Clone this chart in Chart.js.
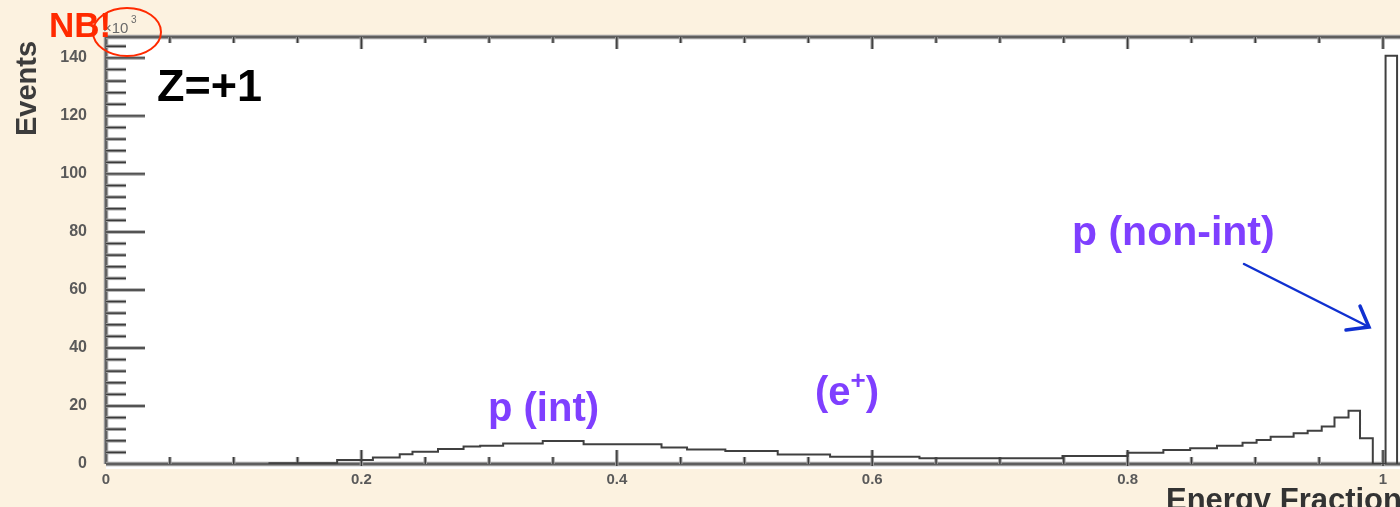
<!DOCTYPE html>
<html>
<head>
<meta charset="utf-8">
<script src="https://cdn.jsdelivr.net/npm/chart.js@4.4.1/dist/chart.umd.min.js"></script>
<style>
  html, body { margin: 0; padding: 0; background: #fcf2e0; }
  #wrap { width: 1400px; height: 507px; position: relative; }
</style>
</head>
<body>
<div id="wrap"><canvas id="c" width="1400" height="507"></canvas></div>
<script>
// ---- data ----
// histogram bin edges (Energy Fraction) and bin contents (Events, x10^3)
const binEdges = [0.128, 0.181, 0.209, 0.230, 0.240, 0.260, 0.280, 0.293, 0.311, 0.342,
                  0.374, 0.435, 0.455, 0.485, 0.526, 0.567, 0.637, 0.749, 0.800, 0.828,
                  0.849, 0.870, 0.890, 0.901, 0.912, 0.930, 0.941, 0.952, 0.962, 0.973,
                  0.982, 0.992, 1.002, 1.011];
const counts   = [0.3, 1.4, 2.2, 3.4, 4.2, 5.2, 6.0, 6.3, 7.1, 7.9,
                  6.8, 5.7, 5.0, 4.5, 3.3, 2.5, 2.0, 2.8, 3.9, 4.8,
                  5.4, 6.3, 7.3, 8.3, 9.4, 10.6, 11.5, 12.9, 16.0, 18.4,
                  8.9, 0, 140.7];
const xTickValues = [0, 0.2, 0.4, 0.6, 0.8, 1.0];
const yTickValues = [0, 20, 40, 60, 80, 100, 120, 140];
const xMinorStep = 0.05;
const yMinorStep = 4;

// step-histogram outline points built from the arrays
const n = counts.length;
const points = [{x: binEdges[0], y: 0}];
for (let i = 0; i < n; i++) points.push({x: binEdges[i], y: counts[i]});
points.push({x: binEdges[n], y: counts[n - 1]});
points.push({x: binEdges[n], y: 0});

const FONT = "'Liberation Sans', Arial, Helvetica, sans-serif";

const decor = {
  id: 'decor',
  beforeDraw(chart) {
    const {ctx, chartArea: a} = chart;
    ctx.save();
    ctx.fillStyle = '#fcf2e0';
    ctx.fillRect(0, 0, chart.width, chart.height);
    ctx.fillStyle = '#ffffff';
    ctx.fillRect(a.left, a.top, a.right - a.left, a.bottom - a.top + 5);
    ctx.restore();
  },
  beforeDatasetsDraw(chart) {
    const {ctx, chartArea: a, scales: {x, y}} = chart;
    ctx.save();
    // axis frame lines
    const axisLine = (x1, y1, x2, y2) => {
      ctx.lineCap = 'butt';
      ctx.strokeStyle = '#9a9a9a'; ctx.lineWidth = 4.5;
      ctx.beginPath(); ctx.moveTo(x1, y1); ctx.lineTo(x2, y2); ctx.stroke();
      ctx.strokeStyle = '#4a4a4a'; ctx.lineWidth = 1.4;
      ctx.beginPath(); ctx.moveTo(x1, y1); ctx.lineTo(x2, y2); ctx.stroke();
    };
    axisLine(a.left, a.top, a.left, a.bottom);
    axisLine(a.left, a.bottom, a.right, a.bottom);
    axisLine(a.left, a.top, a.right, a.top);

    const tick = (x1, y1, x2, y2) => {
      ctx.strokeStyle = '#a0a0a0'; ctx.lineWidth = 3.5;
      ctx.beginPath(); ctx.moveTo(x1, y1); ctx.lineTo(x2, y2); ctx.stroke();
      ctx.strokeStyle = '#3a3a3a'; ctx.lineWidth = 1.4;
      ctx.beginPath(); ctx.moveTo(x1, y1); ctx.lineTo(x2, y2); ctx.stroke();
    };
    // y ticks (inside, long)
    for (let v = yMinorStep; v <= y.max + 1e-9; v += yMinorStep) {
      const py = y.getPixelForValue(v);
      const major = Math.abs(v / 20 - Math.round(v / 20)) < 1e-6;
      tick(a.left, py, a.left + (major ? 39 : 20), py);
    }
    // x ticks bottom and top
    for (let k = 1; k * xMinorStep <= x.max + 1e-9; k++) {
      const v = k * xMinorStep;
      const px = x.getPixelForValue(v);
      const major = k % 4 === 0;
      tick(px, a.bottom + (major ? 2 : 0), px, a.bottom - (major ? 14 : 7));
      tick(px, a.top, px, a.top + (major ? 12 : 6));
    }
    ctx.restore();
  },
  afterDraw(chart) {
    const {ctx} = chart;
    ctx.save();
    ctx.textAlign = 'left';
    ctx.textBaseline = 'alphabetic';
    // x10^3 exponent label
    ctx.fillStyle = '#6a6a6a';
    ctx.font = `15px ${FONT}`;
    ctx.fillText('\u00d710', 103, 33);
    ctx.font = `10px ${FONT}`;
    ctx.fillText('3', 131, 23);
    // NB! and red ellipse
    ctx.fillStyle = '#ff2a00';
    ctx.font = `bold 35px ${FONT}`;
    ctx.fillText('NB!', 49, 37);
    ctx.strokeStyle = '#ff2a00';
    ctx.lineWidth = 2;
    ctx.beginPath();
    ctx.ellipse(127, 32, 34, 24, 0, 0, Math.PI * 2);
    ctx.stroke();
    // y axis title
    ctx.save();
    ctx.translate(36, 136);
    ctx.rotate(-Math.PI / 2);
    ctx.fillStyle = '#3c3c3c';
    ctx.font = `bold 29px ${FONT}`;
    ctx.fillText('Events', 0, 0);
    ctx.restore();
    // x axis title
    ctx.fillStyle = '#333333';
    ctx.font = `bold 31px ${FONT}`;
    ctx.fillText('Energy Fraction', 1166, 510);
    // Z=+1
    ctx.fillStyle = '#000000';
    ctx.font = `bold 45px ${FONT}`;
    ctx.fillText('Z=+1', 157, 101);
    // purple labels
    const purple = '#7f3fff';
    ctx.fillStyle = purple;
    ctx.font = `bold 40px ${FONT}`;
    ctx.fillText('p (int)', 488, 421);
    ctx.font = `bold 41px ${FONT}`;
    ctx.fillText('p (non-int)', 1072, 245);
    ctx.font = `bold 40px ${FONT}`;
    let ex = 815;
    ctx.fillText('(e', ex, 405);
    ex += ctx.measureText('(e').width;
    ctx.font = `bold 26px ${FONT}`;
    ctx.fillText('+', ex, 389);
    ex += ctx.measureText('+').width;
    ctx.font = `bold 40px ${FONT}`;
    ctx.fillText(')', ex, 405);
    // blue arrow
    ctx.strokeStyle = '#1030d0';
    ctx.lineWidth = 2.5;
    ctx.lineCap = 'round';
    ctx.beginPath();
    ctx.moveTo(1244, 264);
    ctx.lineTo(1369, 327);
    ctx.stroke();
    ctx.lineWidth = 3.5;
    ctx.beginPath();
    ctx.moveTo(1360, 306);
    ctx.lineTo(1369, 327);
    ctx.lineTo(1346, 330);
    ctx.stroke();
    ctx.restore();
  }
};

new Chart(document.getElementById('c'), {
  type: 'line',
  data: {
    datasets: [{
      data: points,
      stepped: 'before',
      borderColor: '#404040',
      borderWidth: 2,
      pointRadius: 0,
      fill: false,
      tension: 0
    }]
  },
  options: {
    responsive: false,
    animation: false,
    events: [],
    layout: { padding: { top: 37, right: 0, left: 0, bottom: 0 } },
    plugins: { legend: { display: false }, tooltip: { enabled: false } },
    scales: {
      x: {
        type: 'linear',
        min: 0,
        max: 1.0133,
        grid: { display: false },
        border: { display: false },
        afterBuildTicks: (s) => { s.ticks = xTickValues.map(v => ({value: v})); },
        afterFit: (s) => { s.height = 43; },
        ticks: {
          autoSkip: false, maxRotation: 0, padding: -1,
          color: '#5a5a5a',
          font: { family: FONT, size: 15, weight: 'bold' },
          callback: (v) => (v === 0 ? '0' : (v === 1 ? '1' : v.toFixed(1)))
        }
      },
      y: {
        type: 'linear',
        min: 0,
        max: 147.2,
        grid: { display: false },
        border: { display: false },
        afterBuildTicks: (s) => { s.ticks = yTickValues.map(v => ({value: v})); },
        afterFit: (s) => { s.width = 106; },
        ticks: {
          autoSkip: false, padding: 11,
          color: '#5a5a5a',
          font: { family: FONT, size: 16, weight: 'bold' }
        }
      }
    }
  },
  plugins: [decor]
});
</script>
</body>
</html>
